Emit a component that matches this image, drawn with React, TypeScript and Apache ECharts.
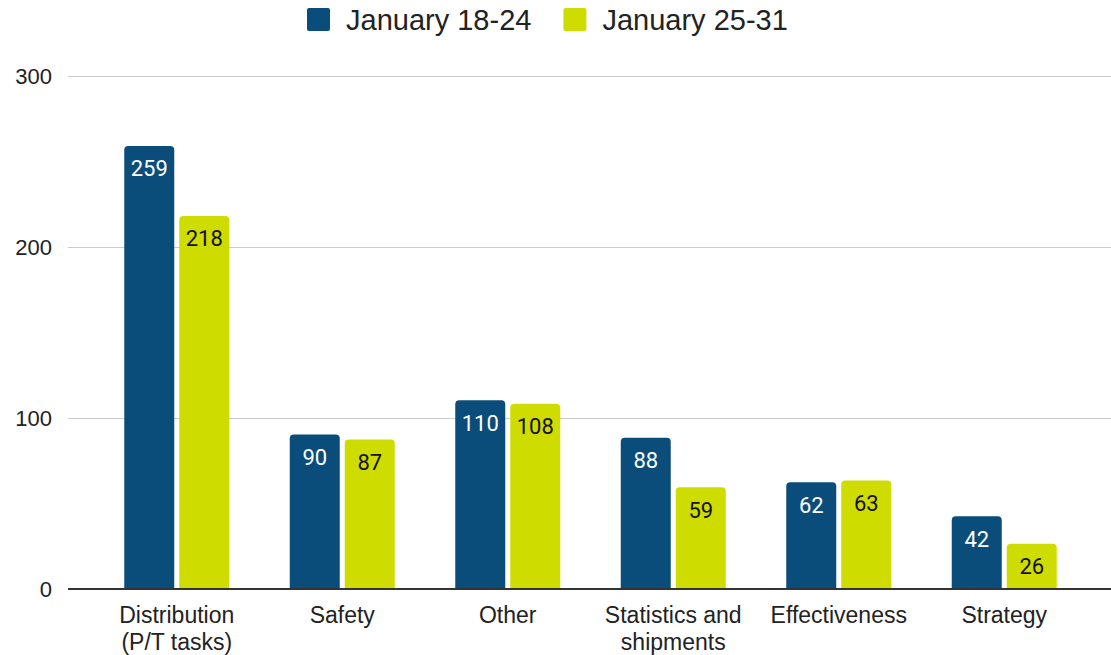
import React, { useEffect, useRef } from "react";
import * as echarts from "echarts";

const categories = ["Distribution\n(P/T tasks)", "Safety", "Other", "Statistics and\nshipments", "Effectiveness", "Strategy"];
const seriesNames = ["January 18-24", "January 25-31"];
const week1 = [259, 90, 110, 88, 62, 42];
const week2 = [218, 87, 108, 59, 63, 26];
const colors = ["#0b4d7a", "#cfdc00"];

export default function App() {
  const ref = useRef<HTMLDivElement>(null);
  useEffect(() => {
    const chart = echarts.init(ref.current!, undefined, { renderer: "svg" });
    chart.setOption({
      animation: false,
      legend: {
        top: 0,
        left: 302,
        itemWidth: 23,
        itemHeight: 23,
        itemGap: 32,
        icon: "path://M2,0 H21 Q23,0 23,2 V21 Q23,23 21,23 H2 Q0,23 0,21 V2 Q0,0 2,0 Z",
        textStyle: { fontSize: 29, color: "#222", fontFamily: "Liberation Sans", padding: [0, 0, 0, 11] },
        data: seriesNames,
      },
      grid: [
        { left: 68, right: 0, top: 76, bottom: 66 },
        { left: 94, right: 24, top: 76, bottom: 66 },
      ],
      xAxis: [
        { type: "category", gridIndex: 0, data: categories, show: false },
        {
          type: "category",
          gridIndex: 1,
          data: categories,
          axisLine: { show: false },
          axisTick: { show: false },
          axisLabel: { fontSize: 23, color: "#222", fontFamily: "Liberation Sans", lineHeight: 27, margin: 13, interval: 0 },
        },
      ],
      yAxis: [
        {
          type: "value",
          gridIndex: 0,
          min: 0,
          max: 300,
          interval: 100,
          axisLine: { show: false },
          axisTick: { show: false },
          axisLabel: { fontSize: 22, color: "#222", fontFamily: "Liberation Sans", margin: 16 },
          splitLine: { lineStyle: { color: "#cccccc", width: 1 } },
        },
        {
          type: "value",
          gridIndex: 1,
          min: 0,
          max: 300,
          interval: 100,
          show: false,
          splitLine: { show: false },
        },
      ],
      series: [
        {
          name: seriesNames[0],
          type: "bar",
          xAxisIndex: 1,
          yAxisIndex: 1,
          data: week1,
          barWidth: 50,
          barGap: "10%",
          itemStyle: { color: colors[0], borderRadius: [4, 4, 0, 0] },
          label: { show: true, position: "insideTop", distance: 12, color: "#ffffff", fontSize: 22, fontFamily: "Roboto" },
        },
        {
          name: seriesNames[1],
          type: "bar",
          xAxisIndex: 1,
          yAxisIndex: 1,
          data: week2,
          barWidth: 50,
          barGap: "10%",
          itemStyle: { color: colors[1], borderRadius: [4, 4, 0, 0] },
          label: { show: true, position: "insideTop", distance: 12, color: "#111111", fontSize: 22, fontFamily: "Roboto" },
        },
        {
          type: "line",
          xAxisIndex: 0,
          yAxisIndex: 0,
          data: [],
          markLine: {
            silent: true,
            symbol: "none",
            label: { show: false },
            lineStyle: { color: "#333333", width: 2, type: "solid" },
            data: [{ yAxis: 0 }],
          },
        },
      ],
    });
    return () => chart.dispose();
  }, []);
  return <div ref={ref} style={{ position: "fixed", left: 0, top: 0, width: 1111, height: 655, background: "#fff" }} />;
}
